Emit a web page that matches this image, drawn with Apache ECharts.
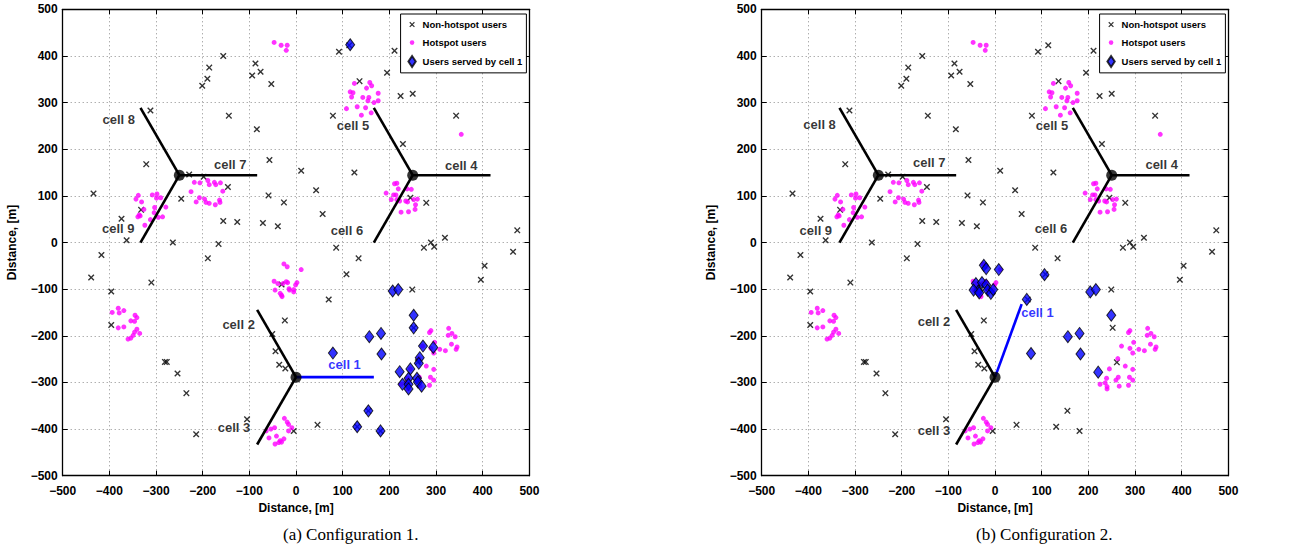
<!DOCTYPE html>
<html><head><meta charset="utf-8">
<script src="https://cdn.jsdelivr.net/npm/echarts@6/dist/echarts.min.js"></script>
<style>html,body{margin:0;padding:0;background:#fff}#c{width:1310px;height:553px}</style>
</head><body><div id="c"></div>
<script>
// ---------------- DATA ----------------
const axisMin = -500, axisMax = 500, axisStep = 100;
const axisTitle = 'Distance, [m]';
const captions = ['(a) Configuration 1.', '(b) Configuration 2.'];
const legendNames = ['Non-hotspot users', 'Hotspot users', 'Users served by cell 1'];

const nonHotspotUsers = [
  [-156,400],[-186,375],[-190,351],[-201,336],[-87,384],[-76,366],[-94,358],[-53,340],[-312,283],[-144,272],
  [-84,243],[-321,168],[-57,177],[-229,146],[-198,141],[-146,119],[-434,105],[-246,94],[-59,101],[-26,86],
  [-332,70],[-374,51],[-156,46],[-126,44],[-71,42],[-39,35],[-363,5],[-264,0],[-166,-3],
  [92,409],[211,411],[195,364],[136,346],[224,314],[250,319],[79,272],[343,272],[229,211],[11,154],
  [125,150],[43,112],[57,61],[245,96],[279,85],[474,26],[319,10],[289,0],[296,-9],[274,-11],[86,-11],
  [-417,-27],[-189,-34],[-439,-75],[-310,-86],[-396,-105],[-396,-177],[-281,-256],[-277,-256],[-254,-281],
  [-235,-323],[-214,-411],[-105,-379],[-31,-90],[-24,-167],[-51,-196],[-44,-233],[-36,-262],[-23,-270],
  [134,-34],[108,-68],[70,-122],[465,-20],[404,-50],[396,-80],[249,-101],[46,-391],[-5,-404],[252,-183],
  [261,-257],[114,423],[155,-361],[131,-395],[181,-404]
];

const hotspotUsers = [
  [-47,429],[-32,423],[-19,423],[-21,412],
  [-218,129],[-206,128],[-189,133],[-186,124],[-175,129],[-172,124],[-162,128],[-157,110],[-225,109],
  [-207,96],[-214,87],[-196,93],[-193,86],[-186,84],[-173,81],[-164,91],[-163,86],
  [-338,101],[-343,93],[-331,87],[-308,102],[-298,104],[-299,95],[-290,96],[-326,71],[-303,75],[-304,64],
  [-279,76],[-336,59],[-334,57],[-339,55],[-312,49],[-295,54],[-286,55],[-324,37],
  [125,341],[158,343],[162,336],[151,331],[116,323],[122,321],[119,312],[143,311],[156,311],[176,320],
  [154,304],[167,300],[176,304],[108,287],[131,291],[149,289],[161,278],[140,273],
  [354,232],
  [211,126],[216,127],[219,115],[193,106],[209,102],[214,102],[238,115],[247,114],[204,92],[216,92],
  [222,89],[235,89],[252,92],[260,93],[239,87],[256,81],[255,71],[225,65],[241,66],
  [-394,-150],[-381,-141],[-369,-146],[-379,-151],[-345,-156],[-341,-161],[-354,-168],[-346,-169],
  [-381,-183],[-369,-181],[-341,-186],[-335,-195],[-346,-192],[-349,-199],[-354,-205],[-360,-207],
  [-26,-46],[-19,-52],[11,-58],[-47,-83],[-39,-88],[-21,-84],[-15,-99],[-45,-102],[-34,-109],[-30,-116],
  [2,-86],[-1,-91],[-5,-101],[-14,-102],[-5,-106],[-28,-88],[-31,-113],[-18,-86],
  [-54,-400],[-46,-397],[-64,-404],[-58,-419],[-42,-415],[-45,-432],[-37,-429],[-31,-428],[-19,-385],
  [-25,-377],[-9,-397],[-16,-404],[-26,-421],[-34,-425],[-16,-390],
  [289,-189],[286,-193],[327,-184],[334,-195],[341,-202],[326,-199],[297,-214],[271,-222],[289,-227],
  [295,-237],[308,-229],[320,-232],[333,-218],[345,-224],[343,-229],[263,-249],[245,-271],[279,-265],
  [295,-272],[288,-289],[239,-291],[225,-304],[236,-301],[240,-309],[240,-314],[264,-289],[259,-295],
  [266,-308],[286,-306],[295,-295]
];

const servedCfg1 = [
  [116,424],[207,-104],[219,-101],[252,-156],[252,-183],[157,-202],[182,-195],[183,-239],[79,-237],
  [272,-222],[294,-225],[265,-247],[263,-259],[245,-271],[222,-277],[241,-291],[259,-291],[228,-304],
  [241,-304],[261,-299],[241,-314],[269,-308],[155,-361],[131,-395],[181,-404]
];
const servedCfg2 = [
  [-24,-49],[-19,-56],[8,-58],[106,-69],[-41,-88],[-28,-86],[-19,-91],[-36,-104],[-46,-102],[-34,-108],
  [-16,-102],[-9,-109],[-4,-101],[68,-122],[204,-106],[216,-101],[249,-156],[156,-202],[181,-195],
  [183,-239],[77,-238],[221,-278]
];

// base stations (x, y) and sector length
const baseStations = [[0,-288.7],[250,144.3],[-250,144.3]];
const sectorLength = 166.7;
// sector azimuths (degrees) per cell 1..9, for each configuration
const sectorAnglesCfg1 = [0,120,240, 0,120,240, 0,120,240];
const sectorAnglesCfg2 = [70,120,240, 0,120,240, 0,120,240];
const cellNames = ['cell 1','cell 2','cell 3','cell 4','cell 5','cell 6','cell 7','cell 8','cell 9'];
// label anchor points in data coordinates
const cellLabelPosCfg1 = [[104,-262],[-123,-175],[-133,-397],[354,166],[122,250],[109,26],[-141,167],[-380,264],[-381,31]];
const cellLabelPosCfg2 = [[91,-150],[-131,-169],[-131,-404],[357,167],[122,251],[120,31],[-141,171],[-376,254],[-384,26]];

// ---------------- STYLE ----------------
const FONT = 'Liberation Sans';
const X_PATH = 'path://M1.5,0L5,3.5L8.5,0L10,1.5L6.5,5L10,8.5L8.5,10L5,6.5L1.5,10L0,8.5L3.5,5L0,1.5Z';
const X_ICON = 'path://M-5,-7M15,17M1.5,0L5,3.5L8.5,0L10,1.5L6.5,5L10,8.5L8.5,10L5,6.5L1.5,10L0,8.5L3.5,5L0,1.5Z';
const DOT_ICON = 'path://M0,0M12,14M3.5,7A2.5,2.5,0,1,1,8.5,7A2.5,2.5,0,1,1,3.5,7Z';
const DIA_ICON = 'path://M0,0M12,14M6,1L10,7L6,13L2,7Z';
const grids = [
  {left: 62.7, top: 9.3, width: 466.7, height: 466.4},
  {left: 761.7, top: 9.3, width: 466.7, height: 466.4}
];
const minus = v => String(v).replace('-', '\u2212');

const xAxes = [], yAxes = [];
grids.forEach((g, i) => {
  const common = {
    type: 'value', gridIndex: i, min: axisMin, max: axisMax, interval: axisStep,
    axisLine: {show: true, onZero: false, lineStyle: {color: '#000', width: 1.3}},
    axisTick: {show: true, inside: true, length: 5, lineStyle: {color: '#000', width: 1}},
  };
  xAxes.push(Object.assign({}, common, {
    position: 'bottom',
    axisLabel: {color: '#000', fontFamily: FONT, fontWeight: 'bold', fontSize: 12, margin: 9, formatter: minus},
    splitLine: {show: true, lineStyle: {color: '#8c8c8c', width: 1, type: [1, 3]}},
    name: axisTitle, nameLocation: 'middle', nameGap: 24,
    nameTextStyle: {color: '#000', fontFamily: FONT, fontWeight: 'bold', fontSize: 12}
  }));
  xAxes.push(Object.assign({}, common, {position: 'top', axisLabel: {show: false}, splitLine: {show: false}}));
  yAxes.push(Object.assign({}, common, {
    position: 'left',
    axisLabel: {color: '#000', fontFamily: FONT, fontWeight: 'bold', fontSize: 12, margin: 5, formatter: minus},
    splitLine: {show: true, lineStyle: {color: '#8c8c8c', width: 1, type: [1, 3]}},
    name: axisTitle, nameLocation: 'middle', nameGap: 45, nameRotate: 90,
    nameTextStyle: {color: '#000', fontFamily: FONT, fontWeight: 'bold', fontSize: 12}
  }));
  yAxes.push(Object.assign({}, common, {position: 'right', axisLabel: {show: false}, splitLine: {show: false}}));
});

const series = [];
const configs = [
  {served: servedCfg1, angles: sectorAnglesCfg1, labels: cellLabelPosCfg1},
  {served: servedCfg2, angles: sectorAnglesCfg2, labels: cellLabelPosCfg2}
];
configs.forEach((cfg, gi) => {
  const xi = gi * 2, yi = gi * 2;
  series.push({
    name: legendNames[0], type: 'scatter', xAxisIndex: xi, yAxisIndex: yi, data: nonHotspotUsers,
    symbol: X_PATH, symbolSize: 6.5, itemStyle: {color: '#000'}, z: 3, silent: true
  });
  series.push({
    name: legendNames[1], type: 'scatter', xAxisIndex: xi, yAxisIndex: yi, data: hotspotUsers,
    symbol: 'circle', symbolSize: 5, itemStyle: {color: '#ff00ff'}, z: 3, silent: true
  });
  cfg.angles.forEach((a, k) => {
    const bs = baseStations[Math.floor(k / 3)];
    const r = a * Math.PI / 180;
    series.push({
      type: 'line', xAxisIndex: xi, yAxisIndex: yi, silent: true, symbol: 'none', z: 4,
      data: [bs, [bs[0] + sectorLength * Math.cos(r), bs[1] + sectorLength * Math.sin(r)]],
      lineStyle: {color: k === 0 ? '#0000ff' : '#000', width: 2.6}
    });
  });
  series.push({
    type: 'scatter', xAxisIndex: xi, yAxisIndex: yi, data: baseStations, silent: true,
    symbol: 'circle', symbolSize: 11, itemStyle: {color: '#000'}, z: 5
  });
  series.push({
    name: legendNames[2], type: 'scatter', xAxisIndex: xi, yAxisIndex: yi, data: cfg.served,
    symbol: 'diamond', symbolSize: [9, 12],
    itemStyle: {color: '#0000ff', borderColor: '#000', borderWidth: 1}, z: 6, silent: true
  });
  series.push({
    type: 'scatter', xAxisIndex: xi, yAxisIndex: yi, silent: true, z: 7,
    data: cfg.labels.map((p, k) => ({value: p, name: cellNames[k],
      label: {color: k === 0 ? '#0000ff' : '#000'}})),
    symbolSize: 1, itemStyle: {color: 'rgba(0,0,0,0)'},
    label: {show: true, position: 'inside', formatter: p => p.name,
      fontFamily: FONT, fontWeight: 'bold', fontSize: 13}
  });
});

const legendData = [
  {name: legendNames[0], icon: X_ICON},
  {name: legendNames[1], icon: DOT_ICON},
  {name: legendNames[2], icon: DIA_ICON}
];
const legends = grids.map(g => ({
  data: legendData, orient: 'vertical', right: 1310 - (g.left + g.width) + 3, top: 14,
  itemWidth: 11, itemHeight: 14, itemGap: 5, padding: [4, 4, 4, 5],
  backgroundColor: '#fff', borderColor: '#000', borderWidth: 1,
  textStyle: {color: '#000', fontFamily: FONT, fontWeight: 'bold', fontSize: 9.5},
  selectedMode: false, z: 20
}));

const chart = echarts.init(document.getElementById('c'), null, {renderer: 'svg'});
chart.setOption({
  animation: false,
  backgroundColor: '#fff',
  grid: grids,
  xAxis: xAxes,
  yAxis: yAxes,
  legend: legends,
  series: series,
  graphic: captions.map((t, i) => ({
    type: 'text', left: i === 0 ? 283 : 976, top: 526,
    style: {text: t, fontFamily: 'Liberation Serif', fontSize: 17, fill: '#000'}
  }))
});
</script>
</body></html>
